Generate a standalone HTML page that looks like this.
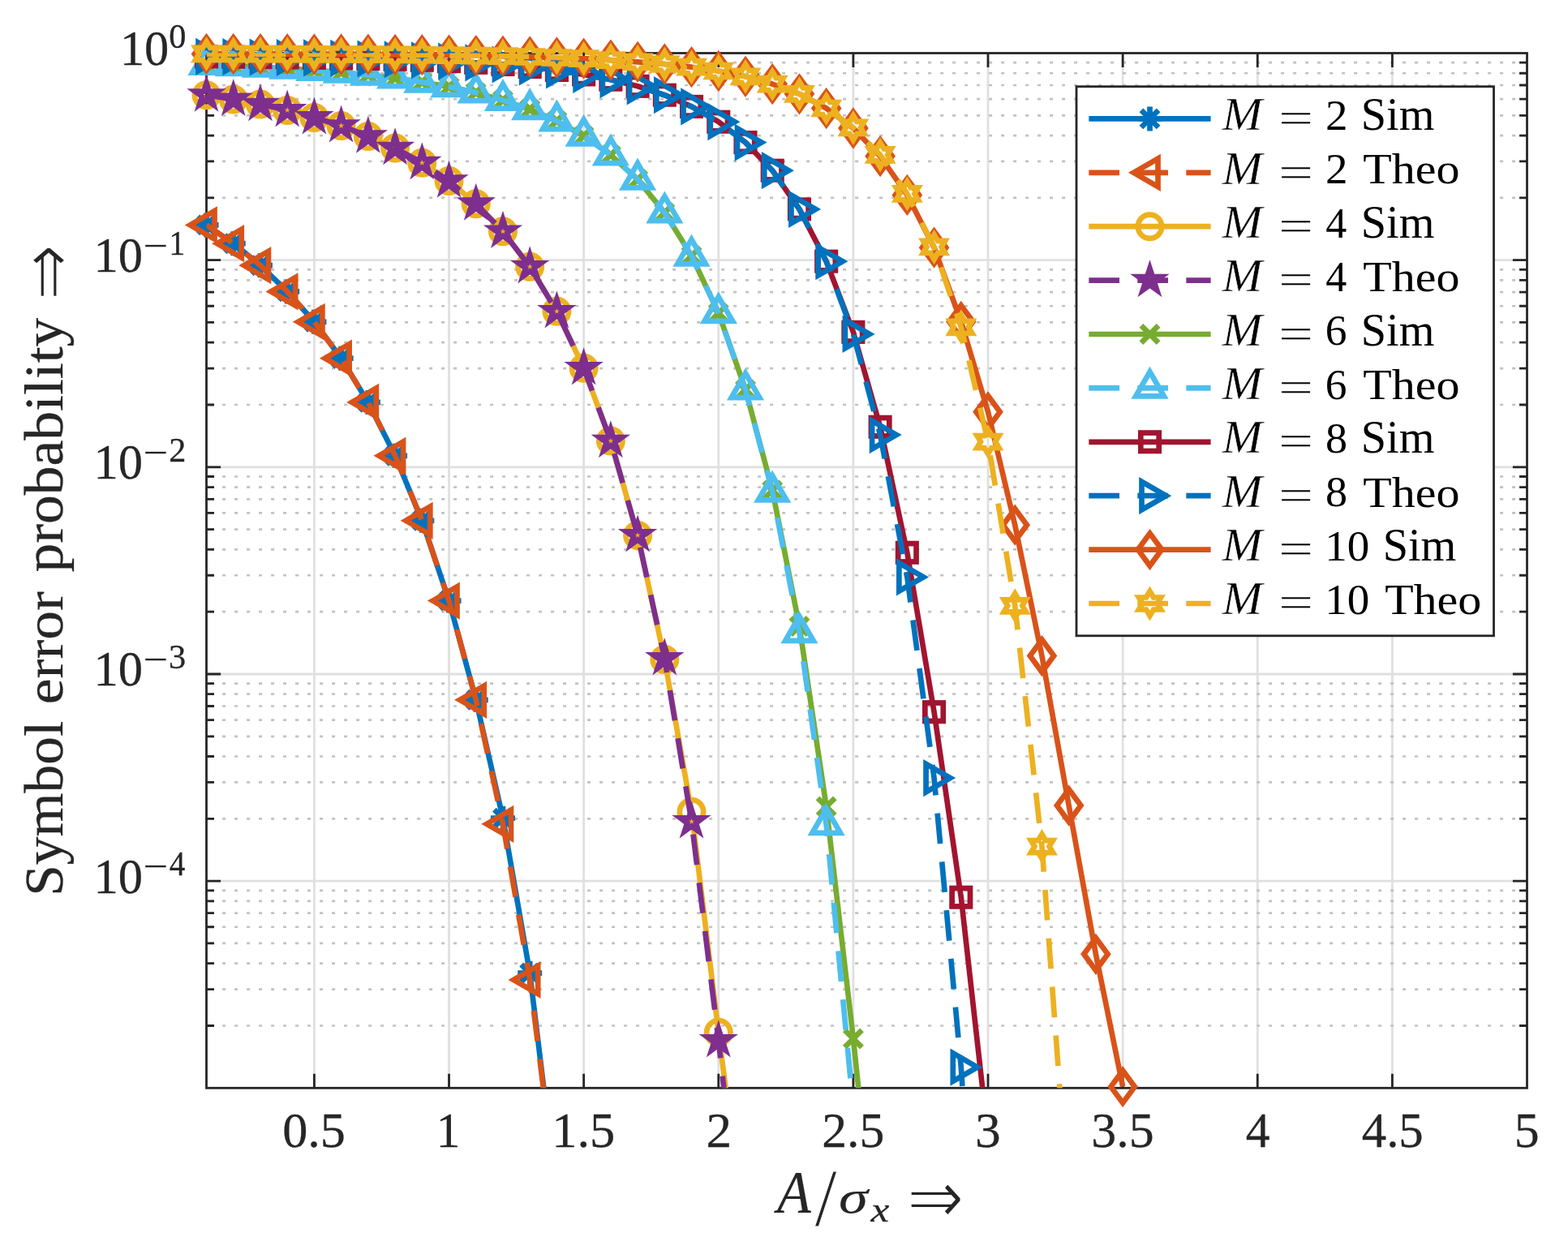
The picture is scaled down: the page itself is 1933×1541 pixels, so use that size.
<!DOCTYPE html>
<html lang="en"><head><meta charset="utf-8"><title>Symbol error probability</title>
<style>html,body{margin:0;padding:0;background:#fff}svg{display:block}text{font-family:"Liberation Serif","DejaVu Serif",serif;fill:#262626;vector-effect:non-scaling-stroke}.ar{font-family:"DejaVu Sans","DejaVu Serif",sans-serif}.bo{stroke:#262626}.th{stroke:#fff}.it{font-style:italic}.lg text{fill:#000}.lg .bo{stroke:#000}.mk{fill:none;stroke-width:6.7;stroke-linejoin:miter;stroke-miterlimit:10}.ln{fill:none;stroke-width:6.7;stroke-linejoin:round;stroke-linecap:butt}</style></head><body>
<svg width="1933" height="1541" viewBox="0 0 1933 1541">
<rect width="1933" height="1541" fill="#fff"/>
<defs>
<clipPath id="ax"><rect x="254.50" y="65.50" width="1628.00" height="1275.80"/></clipPath>
<g id="k_m2s" class="mk" stroke="#0072BD"><path d="M0,-15 V15 M-15,0 H15 M-10.6,-10.6 L10.6,10.6 M-10.6,10.6 L10.6,-10.6"/></g>
<g id="k_m2t" class="mk" stroke="#D95319"><polygon points="-20.00,0.00 10.00,-17.32 10.00,17.32"/></g>
<g id="k_m4s" class="mk" stroke="#EDB120"><circle r="14.65"/></g>
<g id="k_m4t" class="mk" stroke="#7E2F8E"><polygon points="0.00,-14.60 3.28,-4.51 13.89,-4.51 5.30,1.72 8.58,11.81 0.00,5.58 -8.58,11.81 -5.30,1.72 -13.89,-4.51 -3.28,-4.51"/></g>
<g id="k_m6s" class="mk" stroke="#77AC30"><path d="M-10.6,-10.6 L10.6,10.6 M-10.6,10.6 L10.6,-10.6"/></g>
<g id="k_m6t" class="mk" stroke="#4DBEEE"><polygon points="0.00,-20.00 17.32,10.00 -17.32,10.00"/></g>
<g id="k_m8s" class="mk" stroke="#A2142F"><rect x="-11.2" y="-11.2" width="22.4" height="22.4"/></g>
<g id="k_m8t" class="mk" stroke="#0072BD"><polygon points="20.00,0.00 -10.00,-17.32 -10.00,17.32"/></g>
<g id="k_m10s" class="mk" stroke="#D95319"><polygon points="0,-20 14.7,0 0,20 -14.7,0"/></g>
<g id="k_m10t" class="mk" stroke="#EDB120"><polygon points="0.00,-15.00 4.52,-7.50 13.57,-7.50 9.05,-0.00 13.57,7.50 4.52,7.50 0.00,15.00 -4.52,7.50 -13.57,7.50 -9.05,0.00 -13.57,-7.50 -4.52,-7.50"/></g>
</defs>
<path d="M387.40,65.50 V1341.30 M553.52,65.50 V1341.30 M719.64,65.50 V1341.30 M885.77,65.50 V1341.30 M1051.89,65.50 V1341.30 M1218.01,65.50 V1341.30 M1384.13,65.50 V1341.30 M1550.26,65.50 V1341.30 M1716.38,65.50 V1341.30 M254.50,320.66 H1882.50 M254.50,575.82 H1882.50 M254.50,830.98 H1882.50 M254.50,1086.14 H1882.50" stroke="#e0e0e0" stroke-width="2.8" fill="none"/>
<path d="M259.10,243.85 H1882.50 M259.10,198.92 H1882.50 M259.10,167.04 H1882.50 M259.10,142.31 H1882.50 M259.10,122.11 H1882.50 M259.10,105.02 H1882.50 M259.10,90.23 H1882.50 M259.10,77.18 H1882.50 M259.10,499.01 H1882.50 M259.10,454.08 H1882.50 M259.10,422.20 H1882.50 M259.10,397.47 H1882.50 M259.10,377.27 H1882.50 M259.10,360.18 H1882.50 M259.10,345.39 H1882.50 M259.10,332.34 H1882.50 M259.10,754.17 H1882.50 M259.10,709.24 H1882.50 M259.10,677.36 H1882.50 M259.10,652.63 H1882.50 M259.10,632.43 H1882.50 M259.10,615.34 H1882.50 M259.10,600.55 H1882.50 M259.10,587.50 H1882.50 M259.10,1009.33 H1882.50 M259.10,964.40 H1882.50 M259.10,932.52 H1882.50 M259.10,907.79 H1882.50 M259.10,887.59 H1882.50 M259.10,870.50 H1882.50 M259.10,855.71 H1882.50 M259.10,842.66 H1882.50 M259.10,1264.49 H1882.50 M259.10,1219.56 H1882.50 M259.10,1187.68 H1882.50 M259.10,1162.95 H1882.50 M259.10,1142.75 H1882.50 M259.10,1125.66 H1882.50 M259.10,1110.87 H1882.50 M259.10,1097.82 H1882.50" stroke="#c2c2c2" stroke-width="2.7" stroke-dasharray="4.0 11.0" fill="none"/>
<path d="M387.40,1341.30 v-17.6 M387.40,65.50 v17.6 M553.52,1341.30 v-17.6 M553.52,65.50 v17.6 M719.64,1341.30 v-17.6 M719.64,65.50 v17.6 M885.77,1341.30 v-17.6 M885.77,65.50 v17.6 M1051.89,1341.30 v-17.6 M1051.89,65.50 v17.6 M1218.01,1341.30 v-17.6 M1218.01,65.50 v17.6 M1384.13,1341.30 v-17.6 M1384.13,65.50 v17.6 M1550.26,1341.30 v-17.6 M1550.26,65.50 v17.6 M1716.38,1341.30 v-17.6 M1716.38,65.50 v17.6 M254.50,320.66 h17.6 M1882.50,320.66 h-17.6 M254.50,575.82 h17.6 M1882.50,575.82 h-17.6 M254.50,830.98 h17.6 M1882.50,830.98 h-17.6 M254.50,1086.14 h17.6 M1882.50,1086.14 h-17.6 M254.50,243.85 h9.5 M1882.50,243.85 h-9.5 M254.50,198.92 h9.5 M1882.50,198.92 h-9.5 M254.50,167.04 h9.5 M1882.50,167.04 h-9.5 M254.50,142.31 h9.5 M1882.50,142.31 h-9.5 M254.50,122.11 h9.5 M1882.50,122.11 h-9.5 M254.50,105.02 h9.5 M1882.50,105.02 h-9.5 M254.50,90.23 h9.5 M1882.50,90.23 h-9.5 M254.50,77.18 h9.5 M1882.50,77.18 h-9.5 M254.50,499.01 h9.5 M1882.50,499.01 h-9.5 M254.50,454.08 h9.5 M1882.50,454.08 h-9.5 M254.50,422.20 h9.5 M1882.50,422.20 h-9.5 M254.50,397.47 h9.5 M1882.50,397.47 h-9.5 M254.50,377.27 h9.5 M1882.50,377.27 h-9.5 M254.50,360.18 h9.5 M1882.50,360.18 h-9.5 M254.50,345.39 h9.5 M1882.50,345.39 h-9.5 M254.50,332.34 h9.5 M1882.50,332.34 h-9.5 M254.50,754.17 h9.5 M1882.50,754.17 h-9.5 M254.50,709.24 h9.5 M1882.50,709.24 h-9.5 M254.50,677.36 h9.5 M1882.50,677.36 h-9.5 M254.50,652.63 h9.5 M1882.50,652.63 h-9.5 M254.50,632.43 h9.5 M1882.50,632.43 h-9.5 M254.50,615.34 h9.5 M1882.50,615.34 h-9.5 M254.50,600.55 h9.5 M1882.50,600.55 h-9.5 M254.50,587.50 h9.5 M1882.50,587.50 h-9.5 M254.50,1009.33 h9.5 M1882.50,1009.33 h-9.5 M254.50,964.40 h9.5 M1882.50,964.40 h-9.5 M254.50,932.52 h9.5 M1882.50,932.52 h-9.5 M254.50,907.79 h9.5 M1882.50,907.79 h-9.5 M254.50,887.59 h9.5 M1882.50,887.59 h-9.5 M254.50,870.50 h9.5 M1882.50,870.50 h-9.5 M254.50,855.71 h9.5 M1882.50,855.71 h-9.5 M254.50,842.66 h9.5 M1882.50,842.66 h-9.5 M254.50,1264.49 h9.5 M1882.50,1264.49 h-9.5 M254.50,1219.56 h9.5 M1882.50,1219.56 h-9.5 M254.50,1187.68 h9.5 M1882.50,1187.68 h-9.5 M254.50,1162.95 h9.5 M1882.50,1162.95 h-9.5 M254.50,1142.75 h9.5 M1882.50,1142.75 h-9.5 M254.50,1125.66 h9.5 M1882.50,1125.66 h-9.5 M254.50,1110.87 h9.5 M1882.50,1110.87 h-9.5 M254.50,1097.82 h9.5 M1882.50,1097.82 h-9.5" stroke="#262626" stroke-width="2.8" fill="none"/>
<rect x="254.50" y="65.50" width="1628.00" height="1275.80" fill="none" stroke="#262626" stroke-width="2.8"/>
<g>
<polyline class="ln" clip-path="url(#ax)" stroke="#0072BD" points="254.50,277.40 287.72,300.20 320.95,327.20 354.17,359.40 387.40,396.80 420.62,441.70 453.85,495.90 487.07,561.80 520.30,641.80 553.52,740.60 586.74,862.80 619.97,1008.70 653.19,1199.70 686.42,1474.00"/>
<use href="#k_m2s" x="254.50" y="277.40"/>
<use href="#k_m2s" x="287.72" y="300.20"/>
<use href="#k_m2s" x="320.95" y="327.20"/>
<use href="#k_m2s" x="354.17" y="359.40"/>
<use href="#k_m2s" x="387.40" y="396.80"/>
<use href="#k_m2s" x="420.62" y="441.70"/>
<use href="#k_m2s" x="453.85" y="495.90"/>
<use href="#k_m2s" x="487.07" y="561.80"/>
<use href="#k_m2s" x="520.30" y="641.80"/>
<use href="#k_m2s" x="553.52" y="740.60"/>
<use href="#k_m2s" x="586.74" y="862.80"/>
<use href="#k_m2s" x="619.97" y="1008.70"/>
<use href="#k_m2s" x="653.19" y="1199.70"/>
</g>
<g>
<polyline class="ln" clip-path="url(#ax)" stroke="#D95319" stroke-dasharray="37.7 22.3" points="254.50,277.40 287.72,300.20 320.95,327.20 354.17,359.40 387.40,396.80 420.62,441.70 453.85,495.90 487.07,561.80 520.30,641.80 553.52,740.60 586.74,862.80 619.97,1015.80 653.19,1208.00 686.42,1474.00"/>
<use href="#k_m2t" x="254.50" y="277.40"/>
<use href="#k_m2t" x="287.72" y="300.20"/>
<use href="#k_m2t" x="320.95" y="327.20"/>
<use href="#k_m2t" x="354.17" y="359.40"/>
<use href="#k_m2t" x="387.40" y="396.80"/>
<use href="#k_m2t" x="420.62" y="441.70"/>
<use href="#k_m2t" x="453.85" y="495.90"/>
<use href="#k_m2t" x="487.07" y="561.80"/>
<use href="#k_m2t" x="520.30" y="641.80"/>
<use href="#k_m2t" x="553.52" y="740.60"/>
<use href="#k_m2t" x="586.74" y="862.80"/>
<use href="#k_m2t" x="619.97" y="1015.80"/>
<use href="#k_m2t" x="653.19" y="1208.00"/>
</g>
<g>
<polyline class="ln" clip-path="url(#ax)" stroke="#EDB120" points="254.50,117.20 287.72,122.40 320.95,128.60 354.17,135.90 387.40,144.90 420.62,155.00 453.85,168.10 487.07,182.60 520.30,200.70 553.52,223.10 586.74,251.20 619.97,285.30 653.19,328.80 686.42,383.80 719.64,453.80 752.87,543.60 786.09,659.90 819.32,813.00 852.54,1000.80 885.77,1272.80 918.99,1530.00"/>
<use href="#k_m4s" x="254.50" y="117.20"/>
<use href="#k_m4s" x="287.72" y="122.40"/>
<use href="#k_m4s" x="320.95" y="128.60"/>
<use href="#k_m4s" x="354.17" y="135.90"/>
<use href="#k_m4s" x="387.40" y="144.90"/>
<use href="#k_m4s" x="420.62" y="155.00"/>
<use href="#k_m4s" x="453.85" y="168.10"/>
<use href="#k_m4s" x="487.07" y="182.60"/>
<use href="#k_m4s" x="520.30" y="200.70"/>
<use href="#k_m4s" x="553.52" y="223.10"/>
<use href="#k_m4s" x="586.74" y="251.20"/>
<use href="#k_m4s" x="619.97" y="285.30"/>
<use href="#k_m4s" x="653.19" y="328.80"/>
<use href="#k_m4s" x="686.42" y="383.80"/>
<use href="#k_m4s" x="719.64" y="453.80"/>
<use href="#k_m4s" x="752.87" y="543.60"/>
<use href="#k_m4s" x="786.09" y="659.90"/>
<use href="#k_m4s" x="819.32" y="813.00"/>
<use href="#k_m4s" x="852.54" y="1000.80"/>
<use href="#k_m4s" x="885.77" y="1272.80"/>
</g>
<g>
<polyline class="ln" clip-path="url(#ax)" stroke="#7E2F8E" stroke-dasharray="37.7 22.3" points="254.50,117.20 287.72,122.40 320.95,128.60 354.17,135.90 387.40,144.90 420.62,155.00 453.85,168.10 487.07,182.60 520.30,200.70 553.52,223.10 586.74,251.20 619.97,285.30 653.19,328.80 686.42,383.80 719.64,453.80 752.87,543.60 786.09,659.90 819.32,811.80 852.54,1012.90 885.77,1282.80 918.99,1580.00"/>
<use href="#k_m4t" x="254.50" y="117.20"/>
<use href="#k_m4t" x="287.72" y="122.40"/>
<use href="#k_m4t" x="320.95" y="128.60"/>
<use href="#k_m4t" x="354.17" y="135.90"/>
<use href="#k_m4t" x="387.40" y="144.90"/>
<use href="#k_m4t" x="420.62" y="155.00"/>
<use href="#k_m4t" x="453.85" y="168.10"/>
<use href="#k_m4t" x="487.07" y="182.60"/>
<use href="#k_m4t" x="520.30" y="200.70"/>
<use href="#k_m4t" x="553.52" y="223.10"/>
<use href="#k_m4t" x="586.74" y="251.20"/>
<use href="#k_m4t" x="619.97" y="285.30"/>
<use href="#k_m4t" x="653.19" y="328.80"/>
<use href="#k_m4t" x="686.42" y="383.80"/>
<use href="#k_m4t" x="719.64" y="453.80"/>
<use href="#k_m4t" x="752.87" y="543.60"/>
<use href="#k_m4t" x="786.09" y="659.90"/>
<use href="#k_m4t" x="819.32" y="811.80"/>
<use href="#k_m4t" x="852.54" y="1012.90"/>
<use href="#k_m4t" x="885.77" y="1282.80"/>
</g>
<g>
<polyline class="ln" clip-path="url(#ax)" stroke="#77AC30" points="254.50,79.70 287.72,80.80 320.95,82.50 354.17,84.40 387.40,86.70 420.62,89.40 453.85,92.50 487.07,96.20 520.30,101.30 553.52,106.90 586.74,114.10 619.97,123.60 653.19,134.80 686.42,149.10 719.64,167.50 752.87,191.10 786.09,221.30 819.32,262.10 852.54,315.30 885.77,385.90 918.99,480.20 952.21,604.50 985.44,772.00 1018.66,994.40 1051.89,1280.50 1085.11,1596.00"/>
<use href="#k_m6s" x="254.50" y="79.70"/>
<use href="#k_m6s" x="287.72" y="80.80"/>
<use href="#k_m6s" x="320.95" y="82.50"/>
<use href="#k_m6s" x="354.17" y="84.40"/>
<use href="#k_m6s" x="387.40" y="86.70"/>
<use href="#k_m6s" x="420.62" y="89.40"/>
<use href="#k_m6s" x="453.85" y="92.50"/>
<use href="#k_m6s" x="487.07" y="96.20"/>
<use href="#k_m6s" x="520.30" y="101.30"/>
<use href="#k_m6s" x="553.52" y="106.90"/>
<use href="#k_m6s" x="586.74" y="114.10"/>
<use href="#k_m6s" x="619.97" y="123.60"/>
<use href="#k_m6s" x="653.19" y="134.80"/>
<use href="#k_m6s" x="686.42" y="149.10"/>
<use href="#k_m6s" x="719.64" y="167.50"/>
<use href="#k_m6s" x="752.87" y="191.10"/>
<use href="#k_m6s" x="786.09" y="221.30"/>
<use href="#k_m6s" x="819.32" y="262.10"/>
<use href="#k_m6s" x="852.54" y="315.30"/>
<use href="#k_m6s" x="885.77" y="385.90"/>
<use href="#k_m6s" x="918.99" y="480.20"/>
<use href="#k_m6s" x="952.21" y="604.50"/>
<use href="#k_m6s" x="985.44" y="772.00"/>
<use href="#k_m6s" x="1018.66" y="994.40"/>
<use href="#k_m6s" x="1051.89" y="1280.50"/>
</g>
<g>
<polyline class="ln" clip-path="url(#ax)" stroke="#4DBEEE" stroke-dasharray="37.7 22.3" points="254.50,79.70 287.72,80.80 320.95,82.50 354.17,84.40 387.40,86.70 420.62,89.40 453.85,92.50 487.07,96.20 520.30,101.30 553.52,106.90 586.74,114.10 619.97,123.60 653.19,134.80 686.42,149.10 719.64,167.50 752.87,191.10 786.09,221.30 819.32,262.10 852.54,315.30 885.77,385.90 918.99,480.20 952.21,606.30 985.44,779.90 1018.66,1016.80 1051.89,1365.60"/>
<use href="#k_m6t" x="254.50" y="79.70"/>
<use href="#k_m6t" x="287.72" y="80.80"/>
<use href="#k_m6t" x="320.95" y="82.50"/>
<use href="#k_m6t" x="354.17" y="84.40"/>
<use href="#k_m6t" x="387.40" y="86.70"/>
<use href="#k_m6t" x="420.62" y="89.40"/>
<use href="#k_m6t" x="453.85" y="92.50"/>
<use href="#k_m6t" x="487.07" y="96.20"/>
<use href="#k_m6t" x="520.30" y="101.30"/>
<use href="#k_m6t" x="553.52" y="106.90"/>
<use href="#k_m6t" x="586.74" y="114.10"/>
<use href="#k_m6t" x="619.97" y="123.60"/>
<use href="#k_m6t" x="653.19" y="134.80"/>
<use href="#k_m6t" x="686.42" y="149.10"/>
<use href="#k_m6t" x="719.64" y="167.50"/>
<use href="#k_m6t" x="752.87" y="191.10"/>
<use href="#k_m6t" x="786.09" y="221.30"/>
<use href="#k_m6t" x="819.32" y="262.10"/>
<use href="#k_m6t" x="852.54" y="315.30"/>
<use href="#k_m6t" x="885.77" y="385.90"/>
<use href="#k_m6t" x="918.99" y="480.20"/>
<use href="#k_m6t" x="952.21" y="606.30"/>
<use href="#k_m6t" x="985.44" y="779.90"/>
<use href="#k_m6t" x="1018.66" y="1016.80"/>
</g>
<g>
<polyline class="ln" clip-path="url(#ax)" stroke="#A2142F" points="254.50,69.90 287.72,70.20 320.95,70.60 354.17,71.00 387.40,71.40 420.62,71.90 453.85,72.50 487.07,73.30 520.30,74.30 553.52,75.60 586.74,77.30 619.97,79.50 653.19,82.50 686.42,86.50 719.64,91.90 752.87,98.20 786.09,106.30 819.32,117.20 852.54,131.40 885.77,150.20 918.99,175.60 952.21,210.20 985.44,257.90 1018.66,322.20 1051.89,409.40 1085.11,526.30 1118.34,681.30 1151.56,877.70 1184.79,1106.20 1218.01,1402.00"/>
<use href="#k_m8s" x="254.50" y="69.90"/>
<use href="#k_m8s" x="287.72" y="70.20"/>
<use href="#k_m8s" x="320.95" y="70.60"/>
<use href="#k_m8s" x="354.17" y="71.00"/>
<use href="#k_m8s" x="387.40" y="71.40"/>
<use href="#k_m8s" x="420.62" y="71.90"/>
<use href="#k_m8s" x="453.85" y="72.50"/>
<use href="#k_m8s" x="487.07" y="73.30"/>
<use href="#k_m8s" x="520.30" y="74.30"/>
<use href="#k_m8s" x="553.52" y="75.60"/>
<use href="#k_m8s" x="586.74" y="77.30"/>
<use href="#k_m8s" x="619.97" y="79.50"/>
<use href="#k_m8s" x="653.19" y="82.50"/>
<use href="#k_m8s" x="686.42" y="86.50"/>
<use href="#k_m8s" x="719.64" y="91.90"/>
<use href="#k_m8s" x="752.87" y="98.20"/>
<use href="#k_m8s" x="786.09" y="106.30"/>
<use href="#k_m8s" x="819.32" y="117.20"/>
<use href="#k_m8s" x="852.54" y="131.40"/>
<use href="#k_m8s" x="885.77" y="150.20"/>
<use href="#k_m8s" x="918.99" y="175.60"/>
<use href="#k_m8s" x="952.21" y="210.20"/>
<use href="#k_m8s" x="985.44" y="257.90"/>
<use href="#k_m8s" x="1018.66" y="322.20"/>
<use href="#k_m8s" x="1051.89" y="409.40"/>
<use href="#k_m8s" x="1085.11" y="526.30"/>
<use href="#k_m8s" x="1118.34" y="681.30"/>
<use href="#k_m8s" x="1151.56" y="877.70"/>
<use href="#k_m8s" x="1184.79" y="1106.20"/>
</g>
<g>
<polyline class="ln" clip-path="url(#ax)" stroke="#0072BD" stroke-dasharray="37.7 22.3" points="254.50,69.90 287.72,70.20 320.95,70.60 354.17,71.00 387.40,71.40 420.62,71.90 453.85,72.50 487.07,73.30 520.30,74.30 553.52,75.60 586.74,77.30 619.97,79.50 653.19,82.50 686.42,86.50 719.64,91.90 752.87,98.20 786.09,106.30 819.32,117.20 852.54,131.40 885.77,150.20 918.99,175.60 952.21,210.20 985.44,257.90 1018.66,322.20 1051.89,411.90 1085.11,536.10 1118.34,711.40 1151.56,959.10 1184.79,1315.70 1218.01,1800.00"/>
<use href="#k_m8t" x="254.50" y="69.90"/>
<use href="#k_m8t" x="287.72" y="70.20"/>
<use href="#k_m8t" x="320.95" y="70.60"/>
<use href="#k_m8t" x="354.17" y="71.00"/>
<use href="#k_m8t" x="387.40" y="71.40"/>
<use href="#k_m8t" x="420.62" y="71.90"/>
<use href="#k_m8t" x="453.85" y="72.50"/>
<use href="#k_m8t" x="487.07" y="73.30"/>
<use href="#k_m8t" x="520.30" y="74.30"/>
<use href="#k_m8t" x="553.52" y="75.60"/>
<use href="#k_m8t" x="586.74" y="77.30"/>
<use href="#k_m8t" x="619.97" y="79.50"/>
<use href="#k_m8t" x="653.19" y="82.50"/>
<use href="#k_m8t" x="686.42" y="86.50"/>
<use href="#k_m8t" x="719.64" y="91.90"/>
<use href="#k_m8t" x="752.87" y="98.20"/>
<use href="#k_m8t" x="786.09" y="106.30"/>
<use href="#k_m8t" x="819.32" y="117.20"/>
<use href="#k_m8t" x="852.54" y="131.40"/>
<use href="#k_m8t" x="885.77" y="150.20"/>
<use href="#k_m8t" x="918.99" y="175.60"/>
<use href="#k_m8t" x="952.21" y="210.20"/>
<use href="#k_m8t" x="985.44" y="257.90"/>
<use href="#k_m8t" x="1018.66" y="322.20"/>
<use href="#k_m8t" x="1051.89" y="411.90"/>
<use href="#k_m8t" x="1085.11" y="536.10"/>
<use href="#k_m8t" x="1118.34" y="711.40"/>
<use href="#k_m8t" x="1151.56" y="959.10"/>
<use href="#k_m8t" x="1184.79" y="1315.70"/>
</g>
<g>
<polyline class="ln" clip-path="url(#ax)" stroke="#D95319" points="254.50,66.40 287.72,66.50 320.95,66.60 354.17,66.70 387.40,66.90 420.62,67.00 453.85,67.20 487.07,67.40 520.30,67.70 553.52,68.10 586.74,68.60 619.97,69.20 653.19,70.00 686.42,71.00 719.64,72.20 752.87,74.10 786.09,76.30 819.32,79.00 852.54,82.70 885.77,87.50 918.99,94.30 952.21,103.60 985.44,115.80 1018.66,133.50 1051.89,158.00 1085.11,192.60 1118.34,240.40 1151.56,305.20 1184.79,396.50 1218.01,507.80 1251.23,647.20 1284.46,808.60 1317.68,993.10 1350.91,1176.30 1384.13,1339.70"/>
<use href="#k_m10s" x="254.50" y="66.40"/>
<use href="#k_m10s" x="287.72" y="66.50"/>
<use href="#k_m10s" x="320.95" y="66.60"/>
<use href="#k_m10s" x="354.17" y="66.70"/>
<use href="#k_m10s" x="387.40" y="66.90"/>
<use href="#k_m10s" x="420.62" y="67.00"/>
<use href="#k_m10s" x="453.85" y="67.20"/>
<use href="#k_m10s" x="487.07" y="67.40"/>
<use href="#k_m10s" x="520.30" y="67.70"/>
<use href="#k_m10s" x="553.52" y="68.10"/>
<use href="#k_m10s" x="586.74" y="68.60"/>
<use href="#k_m10s" x="619.97" y="69.20"/>
<use href="#k_m10s" x="653.19" y="70.00"/>
<use href="#k_m10s" x="686.42" y="71.00"/>
<use href="#k_m10s" x="719.64" y="72.20"/>
<use href="#k_m10s" x="752.87" y="74.10"/>
<use href="#k_m10s" x="786.09" y="76.30"/>
<use href="#k_m10s" x="819.32" y="79.00"/>
<use href="#k_m10s" x="852.54" y="82.70"/>
<use href="#k_m10s" x="885.77" y="87.50"/>
<use href="#k_m10s" x="918.99" y="94.30"/>
<use href="#k_m10s" x="952.21" y="103.60"/>
<use href="#k_m10s" x="985.44" y="115.80"/>
<use href="#k_m10s" x="1018.66" y="133.50"/>
<use href="#k_m10s" x="1051.89" y="158.00"/>
<use href="#k_m10s" x="1085.11" y="192.60"/>
<use href="#k_m10s" x="1118.34" y="240.40"/>
<use href="#k_m10s" x="1151.56" y="305.20"/>
<use href="#k_m10s" x="1184.79" y="396.50"/>
<use href="#k_m10s" x="1218.01" y="507.80"/>
<use href="#k_m10s" x="1251.23" y="647.20"/>
<use href="#k_m10s" x="1284.46" y="808.60"/>
<use href="#k_m10s" x="1317.68" y="993.10"/>
<use href="#k_m10s" x="1350.91" y="1176.30"/>
<use href="#k_m10s" x="1384.13" y="1339.70"/>
</g>
<g>
<polyline class="ln" clip-path="url(#ax)" stroke="#EDB120" stroke-dasharray="37.7 22.3" points="254.50,66.40 287.72,66.50 320.95,66.60 354.17,66.70 387.40,66.90 420.62,67.00 453.85,67.20 487.07,67.40 520.30,67.70 553.52,68.10 586.74,68.60 619.97,69.20 653.19,70.00 686.42,71.00 719.64,72.20 752.87,74.10 786.09,76.30 819.32,79.00 852.54,82.70 885.77,87.50 918.99,94.30 952.21,103.60 985.44,115.80 1018.66,133.50 1051.89,157.40 1085.11,190.90 1118.34,238.90 1151.56,304.40 1184.79,403.30 1218.01,544.60 1251.23,746.80 1284.46,1043.60 1317.68,1494.00"/>
<use href="#k_m10t" x="254.50" y="66.40"/>
<use href="#k_m10t" x="287.72" y="66.50"/>
<use href="#k_m10t" x="320.95" y="66.60"/>
<use href="#k_m10t" x="354.17" y="66.70"/>
<use href="#k_m10t" x="387.40" y="66.90"/>
<use href="#k_m10t" x="420.62" y="67.00"/>
<use href="#k_m10t" x="453.85" y="67.20"/>
<use href="#k_m10t" x="487.07" y="67.40"/>
<use href="#k_m10t" x="520.30" y="67.70"/>
<use href="#k_m10t" x="553.52" y="68.10"/>
<use href="#k_m10t" x="586.74" y="68.60"/>
<use href="#k_m10t" x="619.97" y="69.20"/>
<use href="#k_m10t" x="653.19" y="70.00"/>
<use href="#k_m10t" x="686.42" y="71.00"/>
<use href="#k_m10t" x="719.64" y="72.20"/>
<use href="#k_m10t" x="752.87" y="74.10"/>
<use href="#k_m10t" x="786.09" y="76.30"/>
<use href="#k_m10t" x="819.32" y="79.00"/>
<use href="#k_m10t" x="852.54" y="82.70"/>
<use href="#k_m10t" x="885.77" y="87.50"/>
<use href="#k_m10t" x="918.99" y="94.30"/>
<use href="#k_m10t" x="952.21" y="103.60"/>
<use href="#k_m10t" x="985.44" y="115.80"/>
<use href="#k_m10t" x="1018.66" y="133.50"/>
<use href="#k_m10t" x="1051.89" y="157.40"/>
<use href="#k_m10t" x="1085.11" y="190.90"/>
<use href="#k_m10t" x="1118.34" y="238.90"/>
<use href="#k_m10t" x="1151.56" y="304.40"/>
<use href="#k_m10t" x="1184.79" y="403.30"/>
<use href="#k_m10t" x="1218.01" y="544.60"/>
<use href="#k_m10t" x="1251.23" y="746.80"/>
<use href="#k_m10t" x="1284.46" y="1043.60"/>
</g>
<g class="tk">
<text transform="matrix(0.62222 0 0 0.61300 348.16 1413.70)" font-size="100" class="bo" stroke-width="0.3">0.5</text>
<text transform="matrix(0.59143 0 0 0.61300 537.83 1413.70)" font-size="100" class="bo" stroke-width="0.3">1</text>
<text transform="matrix(0.62500 0 0 0.61300 680.23 1413.70)" font-size="100" class="bo" stroke-width="0.3">1.5</text>
<text transform="matrix(0.63250 0 0 0.61300 870.60 1413.70)" font-size="100" class="bo" stroke-width="0.3">2</text>
<text transform="matrix(0.61631 0 0 0.61300 1013.18 1413.70)" font-size="100" class="bo" stroke-width="0.3">2.5</text>
<text transform="matrix(0.63415 0 0 0.61300 1201.98 1413.70)" font-size="100" class="bo" stroke-width="0.3">3</text>
<text transform="matrix(0.61897 0 0 0.61300 1345.26 1413.70)" font-size="100" class="bo" stroke-width="0.3">3.5</text>
<text transform="matrix(0.59570 0 0 0.61300 1535.66 1413.70)" font-size="100" class="bo" stroke-width="0.3">4</text>
<text transform="matrix(0.60840 0 0 0.61300 1678.73 1413.70)" font-size="100" class="bo" stroke-width="0.3">4.5</text>
<text transform="matrix(0.61750 0 0 0.61300 1866.65 1413.70)" font-size="100" class="bo" stroke-width="0.3">5</text>
<text transform="matrix(0.60345 0 0 0.60400 147.92 79.90)" font-size="100" class="bo" stroke-width="0.3">10</text>
<text transform="matrix(0.42381 0 0 0.42400 208.35 58.60)" font-size="100" class="bo" stroke-width="0.3">0</text>
<text transform="matrix(0.60575 0 0 0.60400 115.50 335.06)" font-size="100" class="bo" stroke-width="0.3">10</text>
<text transform="matrix(0.54624 0 0 0.48000 176.37 318.80)" font-size="100">−</text>
<text transform="matrix(0.39429 0 0 0.42400 208.50 313.76)" font-size="100" class="bo" stroke-width="0.3">1</text>
<text transform="matrix(0.60575 0 0 0.60400 115.50 590.22)" font-size="100" class="bo" stroke-width="0.3">10</text>
<text transform="matrix(0.54624 0 0 0.48000 176.37 573.96)" font-size="100">−</text>
<text transform="matrix(0.42250 0 0 0.42400 208.25 568.92)" font-size="100" class="bo" stroke-width="0.3">2</text>
<text transform="matrix(0.60575 0 0 0.60400 115.50 845.38)" font-size="100" class="bo" stroke-width="0.3">10</text>
<text transform="matrix(0.54624 0 0 0.48000 176.37 829.12)" font-size="100">−</text>
<text transform="matrix(0.42439 0 0 0.42400 208.03 824.08)" font-size="100" class="bo" stroke-width="0.3">3</text>
<text transform="matrix(0.60575 0 0 0.60400 115.50 1100.54)" font-size="100" class="bo" stroke-width="0.3">10</text>
<text transform="matrix(0.54624 0 0 0.48000 176.37 1084.28)" font-size="100">−</text>
<text transform="matrix(0.39140 0 0 0.42400 208.87 1079.24)" font-size="100" class="bo" stroke-width="0.3">4</text>
</g>
<g class="lb">
<text transform="matrix(0.68358 0 0 0.73282 957.96 1494.90)" font-size="100" class="it bo" stroke-width="0.2">A</text>
<text transform="matrix(0.97818 0 0 1.02406 1004.60 1511.18)" font-size="100" class="th" stroke-width="0.8">/</text>
<text transform="matrix(0.72929 0 0 0.56571 1034.11 1495.23)" font-size="100" class="it bo" stroke-width="0.2">σ</text>
<text transform="matrix(0.51461 0 0 0.44615 1073.51 1505.50)" font-size="100" class="it bo" stroke-width="0.2">x</text>
<text transform="matrix(0.84762 0 0 0.93095 1117.84 1507.67)" font-size="100" class="ar th" stroke-width="2.2">⇒</text>
<text transform="matrix(0 -0.69455 0.67111 0 76.66 1104.76)" font-size="100" class="bo" stroke-width="0.3">Symbol</text>
<text transform="matrix(0 -0.71609 0.64583 0 77.40 868.21)" font-size="100" class="bo" stroke-width="0.3">error</text>
<text transform="matrix(0 -0.71487 0.66889 0 76.70 705.42)" font-size="100" class="bo" stroke-width="0.3">probability</text>
<text transform="matrix(0 -0.83129 0.95238 0 90.20 370.57)" font-size="100" class="ar th" stroke-width="2.2">⇒</text>
</g>
<g class="lg">
<rect x="1327.00" y="106.70" width="514.50" height="677.10" fill="#fff" stroke="#262626" stroke-width="2.8"/>
<path class="ln" stroke="#0072BD" d="M1342.3,146.40 H1492.6"/>
<use href="#k_m2s" x="1417.5" y="146.40"/>
<text transform="matrix(0.59438 0 0 0.56462 1506.79 160.20)" font-size="100" class="it th" stroke-width="0.4">M</text>
<text transform="matrix(0.77634 0 0 0.55600 1575.67 164.25)" font-size="100" class="th" stroke-width="0.9">=</text>
<text transform="matrix(0.55000 0 0 0.53600 1634.12 160.00)" font-size="100">2</text>
<text transform="matrix(0.56209 0 0 0.56119 1677.85 160.24)" font-size="100">Sim</text>
<path class="ln" stroke="#D95319" stroke-dasharray="37.7 22.3" d="M1342.3,212.80 H1492.6"/>
<use href="#k_m2t" x="1417.5" y="212.80"/>
<text transform="matrix(0.59438 0 0 0.56462 1506.79 226.55)" font-size="100" class="it th" stroke-width="0.4">M</text>
<text transform="matrix(0.77634 0 0 0.55600 1575.67 230.60)" font-size="100" class="th" stroke-width="0.9">=</text>
<text transform="matrix(0.55000 0 0 0.53600 1634.12 226.35)" font-size="100">2</text>
<text transform="matrix(0.58045 0 0 0.53759 1680.34 226.41)" font-size="100">Theo</text>
<path class="ln" stroke="#EDB120" d="M1342.3,279.20 H1492.6"/>
<use href="#k_m4s" x="1417.5" y="279.20"/>
<text transform="matrix(0.59438 0 0 0.56462 1506.79 292.90)" font-size="100" class="it th" stroke-width="0.4">M</text>
<text transform="matrix(0.77634 0 0 0.55600 1575.67 296.95)" font-size="100" class="th" stroke-width="0.9">=</text>
<text transform="matrix(0.52043 0 0 0.53600 1634.26 292.70)" font-size="100">4</text>
<text transform="matrix(0.56209 0 0 0.56119 1677.85 292.94)" font-size="100">Sim</text>
<path class="ln" stroke="#7E2F8E" stroke-dasharray="37.7 22.3" d="M1342.3,345.60 H1492.6"/>
<use href="#k_m4t" x="1417.5" y="345.60"/>
<text transform="matrix(0.59438 0 0 0.56462 1506.79 359.25)" font-size="100" class="it th" stroke-width="0.4">M</text>
<text transform="matrix(0.77634 0 0 0.55600 1575.67 363.30)" font-size="100" class="th" stroke-width="0.9">=</text>
<text transform="matrix(0.52043 0 0 0.53600 1634.26 359.05)" font-size="100">4</text>
<text transform="matrix(0.58045 0 0 0.53759 1680.34 359.11)" font-size="100">Theo</text>
<path class="ln" stroke="#77AC30" d="M1342.3,412.00 H1492.6"/>
<use href="#k_m6s" x="1417.5" y="412.00"/>
<text transform="matrix(0.59438 0 0 0.56462 1506.79 425.60)" font-size="100" class="it th" stroke-width="0.4">M</text>
<text transform="matrix(0.77634 0 0 0.55600 1575.67 429.65)" font-size="100" class="th" stroke-width="0.9">=</text>
<text transform="matrix(0.53412 0 0 0.53600 1633.80 425.40)" font-size="100">6</text>
<text transform="matrix(0.56209 0 0 0.56119 1677.85 425.64)" font-size="100">Sim</text>
<path class="ln" stroke="#4DBEEE" stroke-dasharray="37.7 22.3" d="M1342.3,478.40 H1492.6"/>
<use href="#k_m6t" x="1417.5" y="478.40"/>
<text transform="matrix(0.59438 0 0 0.56462 1506.79 491.95)" font-size="100" class="it th" stroke-width="0.4">M</text>
<text transform="matrix(0.77634 0 0 0.55600 1575.67 496.00)" font-size="100" class="th" stroke-width="0.9">=</text>
<text transform="matrix(0.53412 0 0 0.53600 1633.80 491.75)" font-size="100">6</text>
<text transform="matrix(0.58045 0 0 0.53759 1680.34 491.81)" font-size="100">Theo</text>
<path class="ln" stroke="#A2142F" d="M1342.3,544.80 H1492.6"/>
<use href="#k_m8s" x="1417.5" y="544.80"/>
<text transform="matrix(0.59438 0 0 0.56462 1506.79 558.30)" font-size="100" class="it th" stroke-width="0.4">M</text>
<text transform="matrix(0.77634 0 0 0.55600 1575.67 562.35)" font-size="100" class="th" stroke-width="0.9">=</text>
<text transform="matrix(0.54048 0 0 0.53600 1634.04 558.10)" font-size="100">8</text>
<text transform="matrix(0.56209 0 0 0.56119 1677.85 558.34)" font-size="100">Sim</text>
<path class="ln" stroke="#0072BD" stroke-dasharray="37.7 22.3" d="M1342.3,611.20 H1492.6"/>
<use href="#k_m8t" x="1417.5" y="611.20"/>
<text transform="matrix(0.59438 0 0 0.56462 1506.79 624.65)" font-size="100" class="it th" stroke-width="0.4">M</text>
<text transform="matrix(0.77634 0 0 0.55600 1575.67 628.70)" font-size="100" class="th" stroke-width="0.9">=</text>
<text transform="matrix(0.54048 0 0 0.53600 1634.04 624.45)" font-size="100">8</text>
<text transform="matrix(0.58045 0 0 0.53759 1680.34 624.51)" font-size="100">Theo</text>
<path class="ln" stroke="#D95319" d="M1342.3,677.60 H1492.6"/>
<use href="#k_m10s" x="1417.5" y="677.60"/>
<text transform="matrix(0.59438 0 0 0.56462 1506.79 691.00)" font-size="100" class="it th" stroke-width="0.4">M</text>
<text transform="matrix(0.77634 0 0 0.55600 1575.67 695.05)" font-size="100" class="th" stroke-width="0.9">=</text>
<text transform="matrix(0.54943 0 0 0.53600 1633.16 690.80)" font-size="100">10</text>
<text transform="matrix(0.56209 0 0 0.56119 1704.65 691.04)" font-size="100">Sim</text>
<path class="ln" stroke="#EDB120" stroke-dasharray="37.7 22.3" d="M1342.3,744.00 H1492.6"/>
<use href="#k_m10t" x="1417.5" y="744.00"/>
<text transform="matrix(0.59438 0 0 0.56462 1506.79 757.35)" font-size="100" class="it th" stroke-width="0.4">M</text>
<text transform="matrix(0.77634 0 0 0.55600 1575.67 761.40)" font-size="100" class="th" stroke-width="0.9">=</text>
<text transform="matrix(0.54943 0 0 0.53600 1633.16 757.15)" font-size="100">10</text>
<text transform="matrix(0.58045 0 0 0.53759 1707.14 757.21)" font-size="100">Theo</text>
</g>
</svg></body></html>
